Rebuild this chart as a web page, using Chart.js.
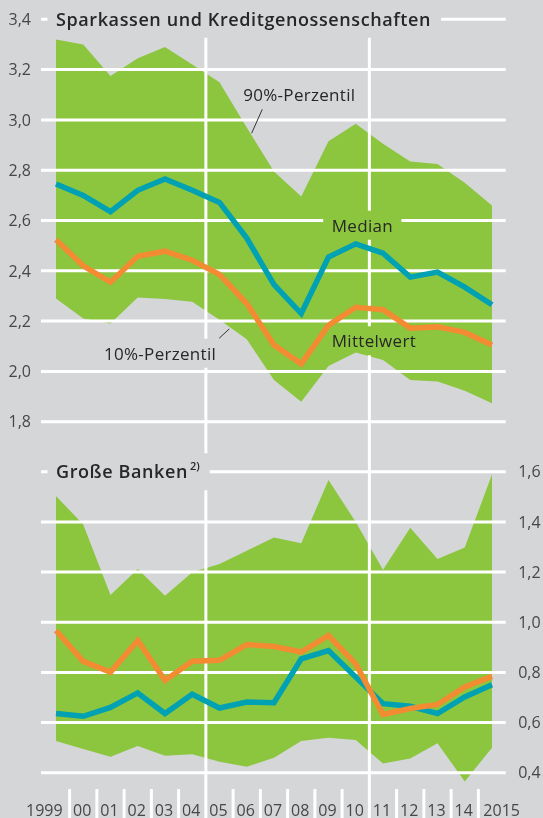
<!DOCTYPE html>
<html>
<head>
<meta charset="utf-8">
<script src="https://cdn.jsdelivr.net/npm/chart.js@4.4.1/dist/chart.umd.min.js"></script>
<style>
html,body{margin:0;padding:0;background:#d5d6d8;}
canvas{display:block;}
</style>
</head>
<body>
<canvas id="chart" width="543" height="818"></canvas>
<script>
// Daten
const years = [1999,2000,2001,2002,2003,2004,2005,2006,2007,2008,2009,2010,2011,2012,2013,2014,2015];
const yearLabels = ['1999','00','01','02','03','04','05','06','07','08','09','10','11','12','13','14','2015'];
const topTicks = [1.8,2.0,2.2,2.4,2.6,2.8,3.0,3.2,3.4];
const bottomTicks = [0.4,0.6,0.8,1.0,1.2,1.4,1.6];
const splitYears = [2004.5, 2010.5];

// Sparkassen und Kreditgenossenschaften
const sparP90    = [3.32,3.30,3.175,3.245,3.29,3.22,3.15,2.97,2.795,2.695,2.915,2.985,2.905,2.835,2.825,2.75,2.66];
const sparP10    = [2.29,2.21,2.19,2.294,2.288,2.277,2.205,2.128,1.966,1.879,2.021,2.075,2.045,1.966,1.96,1.923,1.873];
const sparMedian = [2.745,2.70,2.635,2.72,2.765,2.72,2.672,2.53,2.345,2.23,2.455,2.507,2.47,2.375,2.395,2.335,2.265];
const sparMean   = [2.523,2.42,2.355,2.458,2.478,2.442,2.385,2.27,2.105,2.03,2.183,2.255,2.245,2.172,2.177,2.155,2.105];

// Große Banken
const bankP90    = [1.503,1.39,1.109,1.212,1.106,1.199,1.232,1.285,1.338,1.315,1.567,1.40,1.209,1.377,1.252,1.298,1.589];
const bankP10    = [0.526,0.494,0.464,0.506,0.468,0.474,0.444,0.424,0.46,0.526,0.539,0.53,0.437,0.457,0.517,0.365,0.499];
const bankMedian = [0.636,0.625,0.66,0.718,0.636,0.713,0.658,0.682,0.679,0.854,0.887,0.781,0.675,0.665,0.636,0.702,0.751];
const bankMean   = [0.967,0.844,0.801,0.927,0.768,0.844,0.848,0.911,0.903,0.881,0.947,0.834,0.632,0.656,0.672,0.742,0.784];

const GREEN = '#8cc63f', TEAL = '#00a1b2', ORANGE = '#f28b32', INK = '#272727', TICK = '#474747';
const FONT = '"Open Sans", "DejaVu Sans", sans-serif';

// Beschriftungen im Diagramm (Position in Datenkoordinaten)
const notes = [
  {text:'Sparkassen und Kreditgenossenschaften', x:1999, y:3.4, axis:'yTop', size:18, weight:600, title:true},
  {text:'Große Banken', sup:'2)', x:1999, y:1.6, axis:'yBot', size:18, weight:600, title:true},
  {text:'90%-Perzentil', x:2005.87, y:3.10, axis:'yTop', size:17, weight:400},
  {text:'Median', x:2009.12, y:2.579, axis:'yTop', size:17, weight:400},
  {text:'Mittelwert', x:2009.12, y:2.12, axis:'yTop', size:17, weight:400},
  {text:'10%-Perzentil', x:2000.76, y:2.07, axis:'yTop', size:17, weight:400}
];
const leaders = [
  {axis:'yTop', from:[2006.57,3.042], to:[2006.18,2.947]},
  {axis:'yTop', from:[2004.99,2.132], to:[2005.36,2.169]}
];

const fmt = v => v.toFixed(1).replace('.', ',');
const series = vals => vals.map((v, i) => ({x: years[i], y: v}));
const line = (vals, axis, color, order) => ({
  data: series(vals), yAxisID: axis, borderColor: color, borderWidth: 5.5,
  pointRadius: 0, fill: false, tension: 0, order: order,
  borderJoinStyle: 'miter', borderCapStyle: 'butt'
});
const band = (vals, axis, fill) => ({
  data: series(vals), yAxisID: axis, borderWidth: 0, borderColor: GREEN,
  backgroundColor: GREEN, pointRadius: 0, fill: fill, tension: 0, order: 5
});

function setFont(ctx, n) {
  ctx.font = n.weight + ' ' + n.size + 'px ' + FONT;
  ctx.letterSpacing = n.title ? '0.6px' : '0.3px';
}

function noteBoxes(chart) {
  const ctx = chart.ctx, xs = chart.scales.x;
  return notes.map(n => {
    const ys = chart.scales[n.axis];
    ctx.save();
    setFont(ctx, n);
    let w = ctx.measureText(n.text).width;
    if (n.sup) {
      ctx.letterSpacing = '0px';
      ctx.font = '600 11px ' + FONT;
      w += 2 + ctx.measureText(n.sup).width;
    }
    ctx.restore();
    const x = xs.getPixelForValue(n.x), y = ys.getPixelForValue(n.y);
    const pad = 8.5;
    if (n.title) return {n, x, y, w, box: {x: x - pad, y: y - 18.5, w: w + 2 * pad + 1.5, h: 37}};
    return {n, x, y, w, box: {x: x - pad, y: y - 15, w: w + 2 * pad, h: 29}};
  });
}

const overlay = {
  id: 'overlay',
  beforeDatasetsDraw(chart) {
    const {ctx, chartArea: a, scales} = chart;
    const items = noteBoxes(chart);
    ctx.save();
    ctx.beginPath();
    ctx.rect(0, 0, chart.width, chart.height);
    items.forEach(it => ctx.rect(it.box.x, it.box.y, it.box.w, it.box.h));
    ctx.clip('evenodd');
    ctx.strokeStyle = '#ffffff';
    ctx.lineWidth = 3;
    ctx.beginPath();
    ['yTop', 'yBot'].forEach(id => {
      const s = scales[id];
      s.ticks.forEach(t => {
        const y = s.getPixelForValue(t.value);
        ctx.moveTo(a.left, y);
        ctx.lineTo(a.right, y);
      });
    });
    splitYears.forEach(v => {
      const x = scales.x.getPixelForValue(v);
      ctx.moveTo(x, a.top);
      ctx.lineTo(x, chart.height);
    });
    years.slice(0, -1).forEach(v => {
      if (splitYears.includes(v + 0.5)) return;
      const x = scales.x.getPixelForValue(v + 0.5);
      ctx.moveTo(x, 789);
      ctx.lineTo(x, chart.height);
    });
    ctx.stroke();
    ctx.restore();
  },
  afterDraw(chart) {
    const {ctx, chartArea: a, scales} = chart;
    ctx.save();
    // Achsenbeschriftung
    ctx.font = '400 16px ' + FONT;
    ctx.fillStyle = TICK;
    ctx.textBaseline = 'alphabetic';
    ctx.textAlign = 'right';
    scales.yTop.ticks.forEach(t => {
      ctx.fillText(fmt(t.value), a.left - 10, scales.yTop.getPixelForValue(t.value) + 5.7);
    });
    ctx.textAlign = 'left';
    scales.yBot.ticks.forEach(t => {
      ctx.fillText(fmt(t.value), a.right + 12.5, scales.yBot.getPixelForValue(t.value) + 5.7);
    });
    // Jahre
    const xs = scales.x;
    years.forEach((v, i) => {
      let x = xs.getPixelForValue(v) - 1;
      ctx.textAlign = 'center';
      if (i === 0) { ctx.textAlign = 'right'; x = xs.getPixelForValue(v + 0.5) - 7; }
      if (i === years.length - 1) { ctx.textAlign = 'left'; x = xs.getPixelForValue(v - 0.5) + 5; }
      ctx.fillText(yearLabels[i], x, 815.5);
    });
    // Texte
    ctx.fillStyle = INK;
    ctx.textAlign = 'left';
    noteBoxes(chart).forEach(it => {
      setFont(ctx, it.n);
      ctx.fillText(it.n.text, it.x, it.y + it.n.size * 0.357);
      if (it.n.sup) {
        ctx.letterSpacing = '0px';
        ctx.font = '600 11px ' + FONT;
        ctx.fillText(it.n.sup, it.x + it.w - ctx.measureText(it.n.sup).width, it.y - 2);
      }
    });
    ctx.letterSpacing = '0px';
    // Hinweislinien
    ctx.strokeStyle = '#333333';
    ctx.lineWidth = 1;
    leaders.forEach(l => {
      const ys = scales[l.axis];
      ctx.beginPath();
      ctx.moveTo(xs.getPixelForValue(l.from[0]), ys.getPixelForValue(l.from[1]));
      ctx.lineTo(xs.getPixelForValue(l.to[0]), ys.getPixelForValue(l.to[1]));
      ctx.stroke();
    });
    ctx.restore();
  }
};

const hiddenY = (pos, min, max, width) => ({
  type: 'linear', position: pos, min: min, max: max,
  grid: {display: false, drawTicks: false}, border: {display: false},
  ticks: {display: false},
  afterBuildTicks: s => { s.ticks = (pos === 'left' ? topTicks : bottomTicks).map(v => ({value: v})); },
  afterFit: s => { s.width = width; }
});

new Chart(document.getElementById('chart'), {
  type: 'line',
  data: {
    datasets: [
      line(sparMean, 'yTop', ORANGE, 0),
      line(sparMedian, 'yTop', TEAL, 1),
      band(sparP90, 'yTop', '+1'),
      band(sparP10, 'yTop', false),
      line(bankMean, 'yBot', ORANGE, 0),
      line(bankMedian, 'yBot', TEAL, 1),
      band(bankP90, 'yBot', '+1'),
      band(bankP10, 'yBot', false)
    ]
  },
  options: {
    responsive: false,
    animation: false,
    events: [],
    layout: {padding: {top: 19.3, bottom: 28, left: 0, right: 0}},
    plugins: {legend: {display: false}, tooltip: {enabled: false}, filler: {drawTime: 'beforeDatasetsDraw'}},
    scales: {
      x: {type: 'linear', min: 1998.45, max: 2015.503, display: false},
      yTop: hiddenY('left', 0.3356, 3.4, 41),
      yBot: hiddenY('right', 0.331, 3.404, 37.3)
    }
  },
  plugins: [overlay]
});
</script>
</body>
</html>
